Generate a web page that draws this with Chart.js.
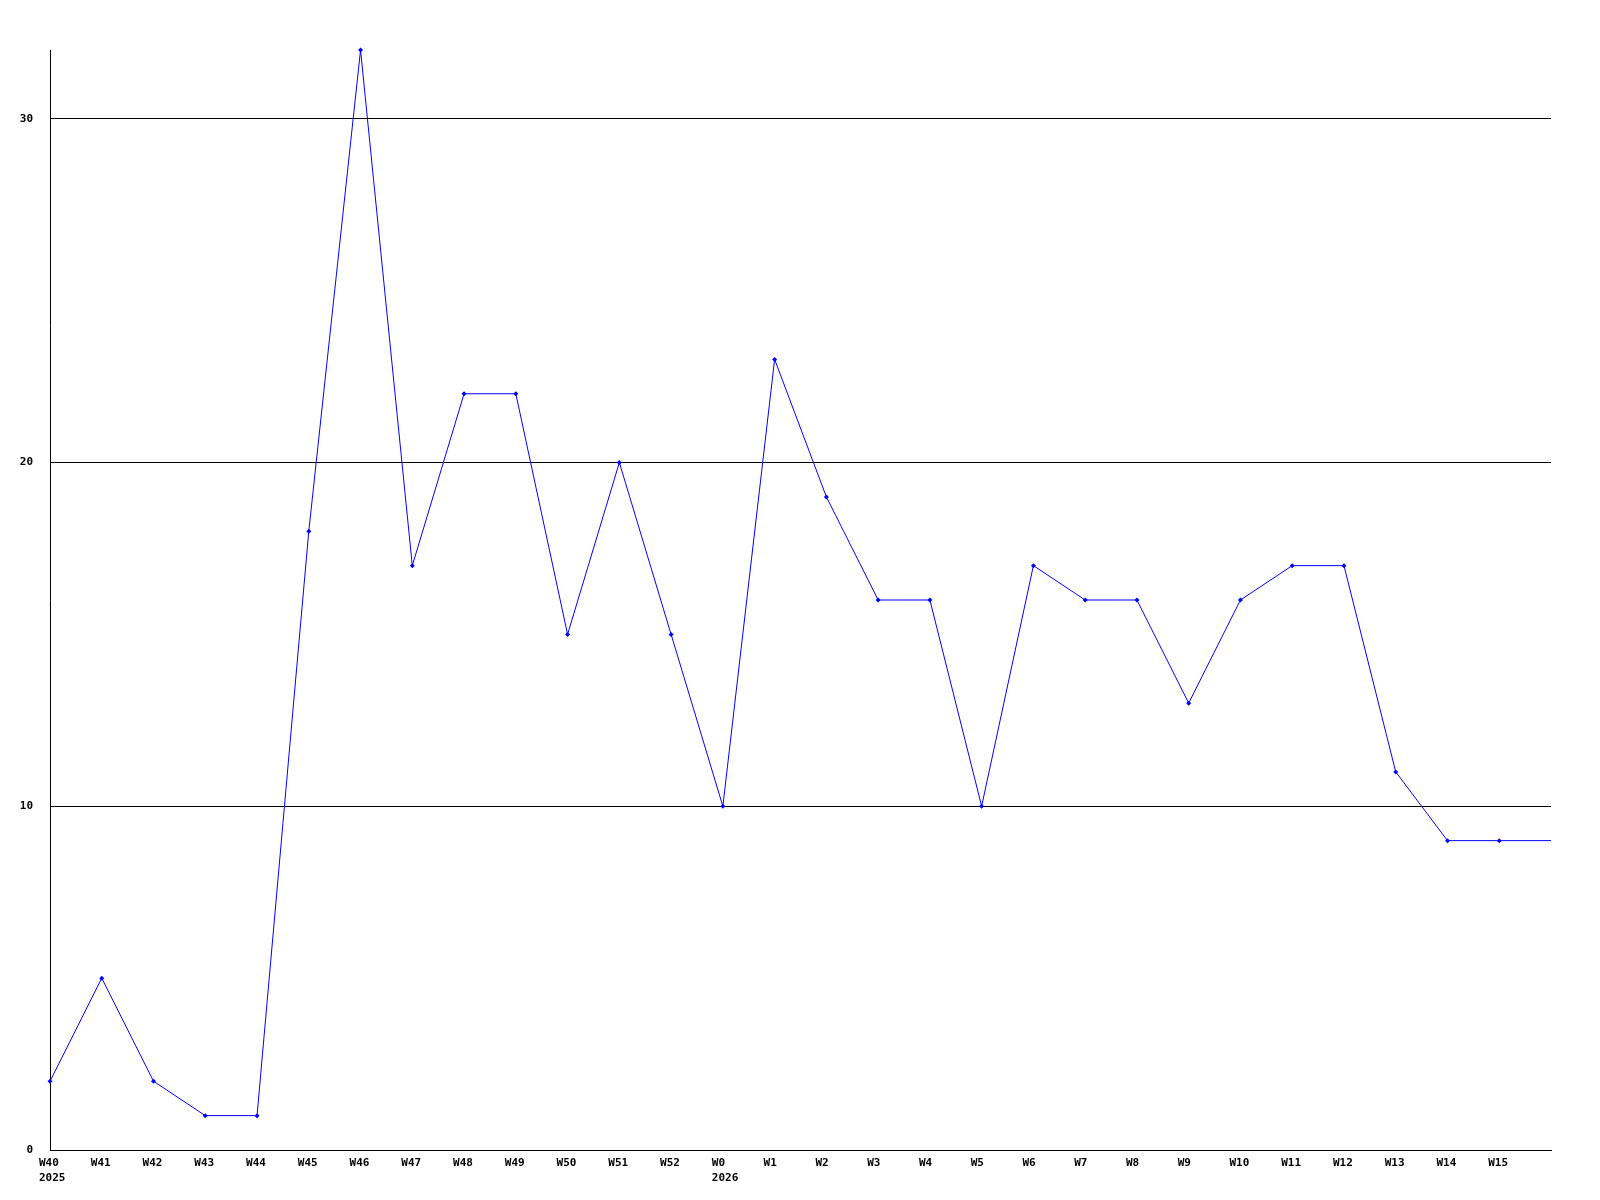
<!DOCTYPE html>
<html>
<head>
<meta charset="utf-8">
<script src="https://cdn.jsdelivr.net/npm/chart.js@4/dist/chart.umd.min.js"></script>
<style>
  html, body { margin: 0; padding: 0; background: #fff; }
  #wrap { width: 1600px; height: 1200px; }
</style>
</head>
<body>
<div id="wrap"><canvas id="myChart" width="1600" height="1200"></canvas></div>
<script>
// week labels, year shown under the first week of each year
const weeks = ["W40","W41","W42","W43","W44","W45","W46","W47","W48","W49","W50","W51","W52",
  "W0","W1","W2","W3","W4","W5","W6","W7","W8","W9","W10","W11","W12","W13","W14","W15",""];
const years = ["2025","","","","","","","","","","","","","2026","","","","","","","","","","","","","","","",""];
const counts = [2,5,2,1,1,18,32,17,22,22,15,20,15,10,23,19,16,16,10,17,16,16,13,16,17,17,11,9,9,9];
const yTicks = [0,10,20,30];
const yMax = 32;

const labels = weeks.map((w, i) => years[i] ? [w, years[i]] : w);
const radii = counts.map((v, i) => i === counts.length - 1 ? 0 : 2.5);

const ctx = document.getElementById("myChart").getContext("2d");
const myChart = new Chart(ctx, {
  type: "line",
  data: {
    labels: labels,
    datasets: [{
      data: counts,
      borderColor: "#0000ff",
      backgroundColor: "#0000ff",
      borderWidth: 1,
      pointStyle: "rectRot",
      pointRadius: radii,
      pointBorderWidth: 0,
      tension: 0,
      clip: false
    }]
  },
  options: {
    responsive: false,
    animation: false,
    layout: { padding: { top: 50, right: 49, left: 0, bottom: 0 } },
    plugins: { legend: { display: false }, tooltip: { enabled: false } },
    scales: {
      x: {
        offset: false,
        grid: { display: false, drawTicks: false },
        border: { display: true, color: "#000", width: 1 },
        ticks: {
          color: "#000",
          font: { family: "DejaVu Sans Mono", size: 11, weight: "bold", lineHeight: 1.35 },
          padding: 6,
          align: "start",
          labelOffset: -11,
          maxRotation: 0,
          autoSkip: false
        },
        afterFit: s => { s.height = 50; }
      },
      y: {
        min: 0,
        max: yMax,
        grid: { color: "#000", lineWidth: 1, drawTicks: false },
        border: { display: true, color: "#000", width: 1 },
        ticks: {
          stepSize: 10,
          color: "#000",
          padding: 17,
          font: { family: "DejaVu Sans Mono", size: 11, weight: "bold" }
        },
        afterBuildTicks: s => { s.ticks = yTicks.map(v => ({ value: v })); },
        afterFit: s => { s.width = 50; }
      }
    }
  }
});
</script>
</body>
</html>
